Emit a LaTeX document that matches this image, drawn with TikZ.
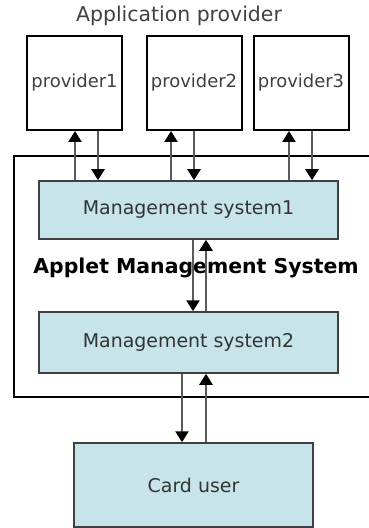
\documentclass[tikz,border=0pt]{standalone}
\usepackage{fontspec}
\setmainfont{DejaVu Sans}
\usetikzlibrary{arrows.meta}
\definecolor{boxfill}{HTML}{C6E4E9}
\definecolor{lin}{HTML}{5A5A5A}
\tikzset{
  prov/.style={draw=black, line width=2bp, fill=white, minimum width=95bp, minimum height=94bp, inner sep=0pt, font=\fontsize{18}{20}\selectfont, text=black!75},
  msbox/.style={draw=black!75, line width=1.5bp, fill=boxfill, minimum width=299bp, inner sep=0pt, font=\fontsize{19}{21}\selectfont, text=black!80},
  arr/.style={draw=lin, line width=2.4bp, -{Triangle[length=11bp,width=13bp,color=black]}},
}
\begin{document}
\begin{tikzpicture}[x=1bp,y=-1bp]
\useasboundingbox (0,0) rectangle (368,528);
\node[font=\fontsize{20.5}{22}\selectfont, text=black!75] (title) at (179,16) {Application provider};
\draw[line width=2bp] (372,156) -- (14,156) -- (14,397) -- (372,397);
\node[prov] (p1) at (74.5,83) {provider1};
\node[prov] (p2) at (194,83) {provider2};
\node[prov] (p3) at (301,83) {provider3};
\node[msbox, minimum height=58bp] (ms1) at (188.5,210) {Management system1};
\node[msbox, minimum height=61bp] (ms2) at (188.5,342.5) {Management system2};
\node[msbox, minimum width=239bp, minimum height=84bp] (card) at (193.5,485) {Card user};
\node[font=\bfseries\fontsize{20.5}{22}\selectfont] (ams) at (196,268) {Applet Management System};
% provider connectors
\draw[arr] ([xshift=0.5bp]p1.south |- ms1.north) -- ([xshift=0.5bp]p1.south);
\draw[arr] ([xshift=23.5bp]p1.south) -- ([xshift=23.5bp]p1.south |- ms1.north);
\draw[arr] ([xshift=-23bp]p2.south |- ms1.north) -- ([xshift=-23bp]p2.south);
\draw[arr] (p2.south) -- (p2.south |- ms1.north);
\draw[arr] ([xshift=-12bp]p3.south |- ms1.north) -- ([xshift=-12bp]p3.south);
\draw[arr] ([xshift=11bp]p3.south) -- ([xshift=11bp]p3.south |- ms1.north);
% ms1 <-> ms2
\draw[arr] ([xshift=4.5bp]ms1.south) -- ([xshift=4.5bp]ms2.north);
\draw[arr] ([xshift=17.5bp]ms2.north) -- ([xshift=17.5bp]ms1.south);
% ms2 <-> card
\draw[arr] ([xshift=-6.5bp]ms2.south) -- ([xshift=-6.5bp]ms2.south |- card.north);
\draw[arr] ([xshift=17.5bp]ms2.south |- card.north) -- ([xshift=17.5bp]ms2.south);
\end{tikzpicture}
\end{document}
